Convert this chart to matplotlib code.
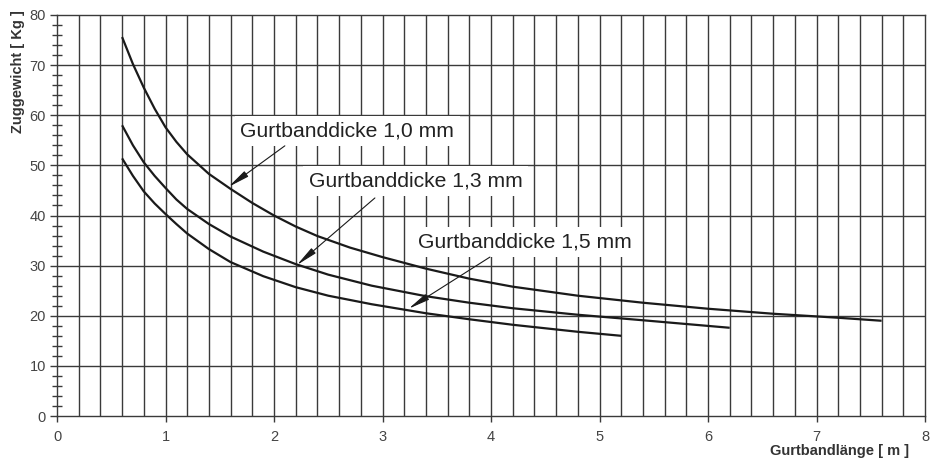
import matplotlib
matplotlib.use("Agg")
import matplotlib.pyplot as plt
import numpy as np

plt.rcParams['font.family'] = ['Liberation Sans', 'DejaVu Sans']

# Data
x_10 = [0.6, 0.7, 0.8, 0.9, 1.0, 1.1, 1.2, 1.4, 1.6, 1.8, 2.0, 2.2, 2.4, 2.7, 3.0, 3.4,
        3.8, 4.2, 4.8, 5.4, 6.0, 6.6, 7.2, 7.6]
y_10 = [75.6, 70.2, 65.5, 61.3, 57.6, 54.7, 52.2, 48.3, 45.3, 42.5, 40.0, 37.8, 35.9, 33.6,
        31.7, 29.4, 27.4, 25.8, 24.0, 22.6, 21.4, 20.4, 19.6, 19.0]

x_13 = [0.6, 0.7, 0.8, 0.9, 1.0, 1.1, 1.2, 1.4, 1.6, 1.9, 2.2, 2.5, 2.9, 3.4, 3.8, 4.2,
        4.8, 5.4, 6.2]
y_13 = [58.0, 54.0, 50.6, 47.9, 45.5, 43.2, 41.3, 38.3, 35.8, 32.8, 30.3, 28.2, 26.0, 23.9,
        22.6, 21.5, 20.2, 19.1, 17.6]

x_15 = [0.6, 0.7, 0.8, 0.9, 1.0, 1.1, 1.2, 1.4, 1.6, 1.9, 2.2, 2.5, 2.9, 3.4, 3.8, 4.2,
        4.8, 5.2]
y_15 = [51.4, 47.9, 44.8, 42.4, 40.3, 38.3, 36.4, 33.3, 30.7, 27.9, 25.7, 24.0, 22.3, 20.5,
        19.3, 18.2, 16.8, 16.0]

labels = ["Gurtbanddicke 1,0 mm", "Gurtbanddicke 1,3 mm", "Gurtbanddicke 1,5 mm"]
label_pos = [(1.69, 56.9), (2.32, 46.9), (3.33, 34.7)]
arrow_from = [(2.10, 53.9), (2.93, 43.5), (3.99, 31.7)]
arrow_to = [(1.58, 45.7), (2.21, 30.1), (3.24, 21.4)]

xticks = [0, 1, 2, 3, 4, 5, 6, 7, 8]
yticks = [0, 10, 20, 30, 40, 50, 60, 70, 80]

fig = plt.figure(figsize=(9.30, 4.59), dpi=100)
ax = fig.add_axes([57/930, 1-416/459, 868/930, 401/459])
ax.set_xlim(0, 8)
ax.set_ylim(0, 80)

gc = '#3a3a3a'
for xv in np.arange(0.2, 8.0, 0.2):
    ax.axvline(xv, color=gc, lw=1.0, zorder=1)
for yv in yticks[1:-1]:
    ax.axhline(yv, color=gc, lw=1.0, zorder=1)

for xs, ys in [(x_10, y_10), (x_13, y_13), (x_15, y_15)]:
    ax.plot(xs, ys, color='#1a1a1a', lw=1.6, zorder=3, solid_capstyle='butt',
            solid_joinstyle='round')

for lab, pos, af, at in zip(labels, label_pos, arrow_from, arrow_to):
    ax.text(pos[0], pos[1], lab, fontsize=15.2, color='#222222', va='center', ha='left',
            zorder=4, bbox=dict(facecolor='white', edgecolor='none', pad=4))
    ax.annotate('', xy=at, xytext=af,
                arrowprops=dict(arrowstyle='-|>,head_length=1.3,head_width=0.2',
                                color='#1a1a1a', lw=0.8, shrinkA=0, shrinkB=0),
                zorder=5)

ax.set_xticks(xticks)
ax.set_yticks(yticks)
ax.set_yticks(np.arange(0, 81, 2), minor=True)
ax.tick_params(axis='y', which='major', direction='out', length=5, width=1, color=gc,
               labelsize=10.5, labelcolor='#444444', pad=3)
ax.tick_params(axis='y', which='minor', direction='inout', length=7, width=1, color=gc)
ax.tick_params(axis='x', which='major', direction='out', length=4, width=1, color=gc,
               labelsize=10.5, labelcolor='#444444', pad=6)
for s in ax.spines.values():
    s.set_color(gc)
    s.set_linewidth(1.0)

fig.text(18/930, 1-72/459, "Zuggewicht [ Kg ]", rotation=90, fontsize=10.5, fontweight='bold',
         color='#333333', ha='center', va='center')
fig.text(840/930, 1-451/459, "Gurtbandlänge [ m ]", fontsize=10.5, fontweight='bold',
         color='#333333', ha='center', va='center')

fig.savefig('out.png', dpi=100)
